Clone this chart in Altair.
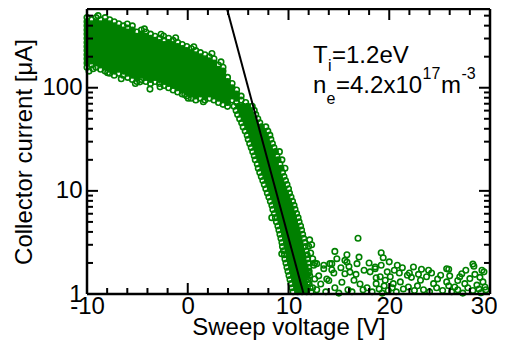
import altair as alt
import pandas as pd

# ---------------- data ----------------
# dense upper band: one column of currents per sweep voltage
top_v = [-10.0, -9.55, -9.1, -8.65, -8.2, -7.75, -7.3, -6.85, -6.4, -5.95, -5.5, -5.05,
         -4.6, -4.15, -3.7, -3.25, -2.8, -2.35, -1.9, -1.45, -1.0, -0.55, -0.1, 0.35,
         0.8, 1.25, 1.7, 2.15, 2.6, 3.05, 3.5, 3.95, 4.4, 4.85, 5.3, 5.75]
top_i = [
    [479, 437, 398, 363, 331, 302, 275, 251, 229, 209, 191, 174, 158],
    [457, 417, 380, 347, 316, 288, 263, 240, 219, 200, 182, 166],
    [479, 437, 398, 363, 331, 302, 275, 251, 229, 209, 191, 174, 158],
    [457, 417, 380, 347, 316, 288, 263, 240, 219, 200, 182, 166, 151],
    [479, 437, 398, 363, 331, 302, 275, 251, 229, 209, 191, 174, 158, 145],
    [457, 417, 380, 347, 316, 288, 263, 240, 219, 200, 182, 166, 151, 138],
    [437, 398, 363, 331, 302, 275, 251, 229, 209, 191, 174, 158, 145, 132],
    [417, 380, 347, 316, 288, 263, 240, 219, 200, 182, 166, 151, 138],
    [398, 363, 331, 302, 275, 251, 229, 209, 191, 174, 158, 145, 132],
    [380, 347, 316, 288, 263, 240, 219, 200, 182, 166, 151, 138, 126],
    [398, 363, 331, 302, 275, 251, 229, 209, 191, 174, 158, 145, 132, 120],
    [347, 316, 288, 263, 240, 219, 200, 182, 166, 151, 138, 126, 115],
    [363, 331, 302, 275, 251, 229, 209, 191, 174, 158, 145, 132, 120],
    [347, 316, 288, 263, 240, 219, 200, 182, 166, 151, 138, 126, 115],
    [331, 302, 275, 251, 229, 209, 191, 174, 158, 145, 132, 120, 110],
    [316, 288, 263, 240, 219, 200, 182, 166, 151, 138, 126, 115],
    [302, 275, 251, 229, 209, 191, 174, 158, 145, 132, 120, 110],
    [288, 263, 240, 219, 200, 182, 166, 151, 138, 126, 115, 105],
    [302, 275, 251, 229, 209, 191, 174, 158, 145, 132, 120, 110, 100],
    [288, 263, 240, 219, 200, 182, 166, 151, 138, 126, 115, 105, 95],
    [275, 251, 229, 209, 191, 174, 158, 145, 132, 120, 110, 100, 91],
    [263, 240, 219, 200, 182, 166, 151, 138, 126, 115, 105, 95, 87],
    [251, 229, 209, 191, 174, 158, 145, 132, 120, 110, 100, 91, 83],
    [240, 219, 200, 182, 166, 151, 138, 126, 115, 105, 95, 87, 79],
    [229, 209, 191, 174, 158, 145, 132, 120, 110, 100, 91, 83, 76],
    [219, 200, 182, 166, 151, 138, 126, 115, 105, 95, 87, 79],
    [209, 191, 174, 158, 145, 132, 120, 110, 100, 91, 83, 76],
    [200, 182, 166, 151, 138, 126, 115, 105, 95, 87, 79],
    [191, 174, 158, 145, 132, 120, 110, 100, 91, 83, 76],
    [166, 151, 138, 126, 115, 105, 95, 87, 79, 72],
    [158, 145, 132, 120, 110, 100, 91, 83, 76, 69],
    [126, 115, 105, 95, 87, 79, 72, 66],
    [110, 100, 91, 83, 76],
    [95, 87, 79, 72],
    [83, 76],
    [72],
]
# stray points around the upper band
edge_v = [-9.4, -7.95, -4.75, -3.75, -2.75, 1.55, 0.05, -4.3, -2.65, -2.4, -6.0, -8.9,
          -9.8, -6.6, -1.2, 0.6, 2.4, 3.3, -5.2, -0.3]
edge_i = [153, 140, 114, 97, 102, 73, 79, 372, 330, 318, 415, 500,
          145, 122, 305, 250, 215, 178, 110, 86]

# steep (retarding) part: one row of voltages per current level
steep_i = [66.1, 60.3, 55.0, 50.1, 45.7, 41.7, 38.0, 34.7, 31.6, 28.8, 26.3, 24.0,
           21.9, 20.0, 18.2, 16.6, 15.1, 13.8, 12.6, 11.5, 10.5, 9.55, 8.71, 7.94,
           7.24, 6.61, 6.03, 5.50, 5.01, 4.57, 4.17, 3.80, 3.47, 3.16, 2.88, 2.63,
           2.40, 2.19, 2.00, 1.82, 1.66, 1.51, 1.38, 1.26, 1.15, 1.05]
steep_v = [
    [4.6, 5.05, 5.5, 5.95, 6.4],
    [4.8, 5.25, 5.7, 6.15, 6.6],
    [4.95, 5.4, 5.85, 6.3, 6.75],
    [5.15, 5.6, 6.05, 6.5, 6.95],
    [5.35, 5.8, 6.25, 6.7, 7.15],
    [5.5, 5.95, 6.4, 6.85, 7.3, 7.75],
    [5.7, 6.15, 6.6, 7.05, 7.5, 7.95],
    [5.9, 6.35, 6.8, 7.25, 7.7, 8.15],
    [6.0, 6.45, 6.9, 7.35, 7.8, 8.25],
    [6.15, 6.6, 7.05, 7.5, 7.95, 8.4],
    [6.3, 6.75, 7.2, 7.65, 8.1, 8.55],
    [6.45, 6.9, 7.35, 7.8, 8.25, 8.7, 9.1],
    [6.6, 7.05, 7.5, 7.95, 8.4, 8.85],
    [6.7, 7.15, 7.6, 8.05, 8.5, 8.95, 9.35],
    [6.9, 7.35, 7.8, 8.25, 8.7, 9.15],
    [7.0, 7.45, 7.9, 8.35, 8.8, 9.25, 9.65],
    [7.15, 7.6, 8.05, 8.5, 8.95, 9.4],
    [7.3, 7.75, 8.2, 8.65, 9.1, 9.55],
    [7.45, 7.9, 8.35, 8.8, 9.25, 9.7],
    [7.6, 8.05, 8.5, 8.95, 9.4, 9.85],
    [7.75, 8.2, 8.65, 9.1, 9.55, 10.0],
    [7.9, 8.35, 8.8, 9.25, 9.7, 10.1],
    [8.05, 8.5, 8.95, 9.4, 9.85, 10.25],
    [8.2, 8.65, 9.1, 9.55, 10.0, 10.4],
    [8.35, 8.8, 9.25, 9.7, 10.15, 10.55],
    [8.45, 8.9, 9.35, 9.8, 10.25, 10.65],
    [8.6, 9.05, 9.5, 9.95, 10.4, 10.8],
    [8.7, 9.15, 9.6, 10.05, 10.5, 10.95],
    [8.8, 9.25, 9.7, 10.15, 10.6, 11.05],
    [8.95, 9.4, 9.85, 10.3, 10.75, 11.2],
    [9.05, 9.5, 9.95, 10.4, 10.85, 11.3],
    [9.15, 9.6, 10.05, 10.5, 10.95, 11.4],
    [9.25, 9.7, 10.15, 10.6, 11.05, 11.5],
    [9.35, 9.8, 10.25, 10.7, 11.15, 11.6],
    [9.4, 9.85, 10.3, 10.75, 11.2, 11.65],
    [9.5, 9.95, 10.4, 10.85, 11.3, 11.75],
    [9.6, 10.05, 10.5, 10.95, 11.4, 11.85],
    [9.65, 10.1, 10.55, 11.0, 11.45, 11.9],
    [9.75, 10.2, 10.65, 11.1, 11.55, 11.95],
    [9.85, 10.3, 10.75, 11.2, 11.65, 12.0],
    [9.95, 10.4, 10.85, 11.3, 11.75, 12.05],
    [10.05, 10.5, 10.95, 11.4, 11.85, 12.1],
    [10.15, 10.6, 11.05, 11.5, 11.95],
    [10.25, 10.7, 11.15, 11.6, 12.05],
    [10.35, 10.8, 11.25, 11.7, 12.15],
    [10.45, 10.9, 11.35, 11.8, 12.25],
]

# sparse noise floor beyond the band
tail_v = [16.9, 14.6, 15.8, 17.0, 19.2, 19.4, 16.8, 15.8, 14.8, 14.3, 13.5, 12.5, 12.1, 12.0, 12.2,
          12.4, 12.6, 18.6, 20.8, 22.4, 23.2, 23.9, 25.9, 27.2, 28.4, 29.4, 22.0, 22.2, 19.8, 18.7,
          9.33, 15.6, 25.7, 28.3, 29.2, 13.5, 14.1, 14.3, 12.8, 15.6, 16.1, 16.5, 17.1, 17.4, 18.1,
          18.6, 19.1, 18.7, 19.6, 20.1, 20.4, 21.1, 21.8, 21.9, 23.1, 23.7, 24.4, 25.1, 25.7, 26.5,
          27.0, 27.5, 28.0, 28.7, 29.3, 29.5, 12.8, 13.2, 13.7, 14.0, 14.6, 15.0, 15.3, 15.9, 16.3,
          17.8, 18.3, 19.0, 19.3, 19.5, 19.9, 20.3, 20.7, 21.4, 22.5, 22.8, 23.4, 24.0, 24.7, 25.3,
          25.9, 26.2, 26.8, 27.3, 27.8, 28.3, 28.9, 29.1, 29.6, 13.0, 13.8, 14.5, 15.2, 16.0, 16.7,
          17.5, 18.0, 19.2, 20.5, 21.3, 22.9, 24.2, 24.8, 26.0, 26.8, 27.6, 28.5, 29.0, 20.0, 21.0,
          8.34, 12.3, 12.0, 11.9, 12.4, 12.6]
tail_i = [3.47, 2.59, 2.4, 2.28, 2.51, 2.25, 1.97, 2.04, 2.2, 1.97, 1.76, 1.9, 3.35, 2.9, 2.5,
          2.2, 2.0, 1.83, 1.9, 1.83, 1.74, 1.7, 1.74, 1.57, 1.86, 1.64, 1.6, 1.45, 1.64, 1.44,
          2.45, 2.12, 1.76, 1.95, 1.7, 1.9, 1.97, 1.72, 1.97, 1.57, 1.63, 1.36, 1.25, 1.1, 1.64,
          1.76, 1.47, 1.26, 1.36, 1.47, 1.26, 1.31, 1.52, 1.17, 1.36, 1.47, 1.26, 1.52, 1.31, 1.17,
          1.47, 1.26, 1.41, 1.22, 1.31, 1.17, 1.1, 1.25, 1.05, 1.35, 1.15, 1.02, 1.3, 1.1, 1.05,
          1.15, 1.05, 1.12, 1.02, 1.2, 1.08, 1.15, 1.05, 1.12, 1.08, 1.2, 1.1, 1.05, 1.15, 1.08,
          1.2, 1.05, 1.1, 1.02, 1.15, 1.08, 1.12, 1.03, 1.1, 1.5, 1.4, 1.6, 1.8, 1.85, 1.55,
          1.7, 2.0, 1.9, 1.7, 1.8, 1.55, 1.6, 1.4, 1.5, 1.35, 1.7, 1.55, 1.45, 2.05, 1.6,
          5.5, 3.0, 1.6, 1.3, 1.15, 1.4]

# exponential fit (straight on the log axis)
fit_v = [3.9, 11.5]
fit_i = [580, 1]

# axes
x_domain = [-10, 30]
y_domain = [1, 580]
x_major = [-10, 0, 10, 20, 30]
x_minor = [-8, -6, -4, -2, 2, 4, 6, 8, 12, 14, 16, 18, 22, 24, 26, 28]
y_major = [1, 10, 100]
y_minor = [2, 3, 4, 5, 6, 7, 8, 9, 20, 30, 40, 50, 60, 70, 80, 90, 200, 300, 400, 500]

# ---------------- build tables ----------------
pv, pi = [], []   # every measured point (open circles)
fv, fi = [], []   # interior of the dense band (overplotted, appears solid)
for v, col in zip(top_v, top_i):
    for k, i in enumerate(col):
        pv.append(v)
        pi.append(i)
        if 0 < k < len(col) - 1:
            fv.append(v)
            fi.append(i)
pv += edge_v
pi += edge_i
for i, row in zip(steep_i, steep_v):
    for k, v in enumerate(row):
        pv.append(v)
        pi.append(i)
        if 0 < k < len(row) - 1:
            fv.append(v)
            fi.append(i)
pv += tail_v
pi += tail_i
points = pd.DataFrame({"V": pv, "I": pi})
dense = pd.DataFrame({"V": fv, "I": fi})
fit = pd.DataFrame({"V": fit_v, "I": fit_i})

W, H = 403, 285
FONT = "Liberation Sans"
GREEN = "#008000"
MAJ, MIN = 11, 6
FS = 24

xs = alt.Scale(domain=x_domain, nice=False, zero=False)
ys = alt.Scale(type="log", domain=y_domain, nice=False)

XAX = alt.Axis(
    values=x_major, ticks=False, domain=False, grid=False,
    labelFont=FONT, labelFontSize=FS, labelColor="black", labelPadding=0,
    labelFlush=False, labelOverlap=False, labelExpr="'' + datum.value",
    labelAlign={"condition": {"test": "datum.value == 30", "value": "right"}, "value": "center"},
    labelOffset={"condition": {"test": "datum.value == 30", "value": 7}, "value": 0},
    title="Sweep voltage [V]", titleFont=FONT, titleFontSize=FS,
    titleFontWeight="normal", titleColor="black",
    titleBaseline="alphabetic", titleY=40)
YAX = alt.Axis(
    values=y_major, ticks=False, domain=False, grid=False,
    labelFont=FONT, labelFontSize=FS, labelColor="black", labelPadding=5,
    labelFlush=False, labelOverlap=False, labelExpr="'' + datum.value",
    title="Collector current [μA]", titleFont=FONT, titleFontSize=FS,
    titleFontWeight="normal", titleColor="black",
    titleBaseline="alphabetic", titleX=-56)


def X(f="V"):
    return alt.X(f + ":Q", scale=xs, axis=XAX, title="Sweep voltage [V]")


def Y(f="I"):
    return alt.Y(f + ":Q", scale=ys, axis=YAX, title="Collector current [μA]")


fill = alt.Chart(dense).mark_point(
    shape="circle", filled=True, color=GREEN, size=26, strokeWidth=0, opacity=1
).encode(x=X(), y=Y())

pts = alt.Chart(points).mark_point(
    shape="circle", filled=False, color=GREEN, size=30, strokeWidth=1.6, opacity=1
).encode(x=X(), y=Y())

line = alt.Chart(fit).mark_line(color="black", strokeWidth=2).encode(x=X(), y=Y())


def xticks(vals, length):
    d = pd.DataFrame({"V": vals})
    bottom = alt.Chart(d).mark_rule(color="black", strokeWidth=2).encode(
        x=X(), y=alt.value(H), y2=alt.value(H - length))
    top = alt.Chart(d).mark_rule(color="black", strokeWidth=2).encode(
        x=X(), y=alt.value(0), y2=alt.value(length))
    return [bottom, top]


def yticks(vals, length):
    d = pd.DataFrame({"I": vals})
    left = alt.Chart(d).mark_rule(color="black", strokeWidth=2).encode(
        y=Y(), x=alt.value(0), x2=alt.value(length))
    right = alt.Chart(d).mark_rule(color="black", strokeWidth=2).encode(
        y=Y(), x=alt.value(W), x2=alt.value(W - length))
    return [left, right]


frame_x = alt.Chart(pd.DataFrame({"V": x_domain})).mark_rule(
    color="black", strokeWidth=2.5).encode(x=X())
frame_y = alt.Chart(pd.DataFrame({"I": y_domain})).mark_rule(
    color="black", strokeWidth=2.5).encode(y=Y())


def txt(s, x, y, size):
    return alt.Chart(pd.DataFrame({"a": [0]})).mark_text(
        text=s, font=FONT, fontSize=size, color="black", align="left", baseline="alphabetic"
    ).encode(x=alt.value(x), y=alt.value(y))


ann = [
    txt("T", 226, 54, 24), txt("i", 241, 62, 16), txt("=1.2eV", 245, 54, 24),
    txt("n", 226, 84, 24), txt("e", 239.5, 95, 16), txt("=4.2x10", 249, 84, 24),
    txt("17", 335.5, 70, 16), txt("m", 354, 84, 24), txt("-3", 374.5, 70, 16),
]

layers = [fill, pts, line] + xticks(x_major, MAJ) + xticks(x_minor, MIN) \
    + yticks(y_major, MAJ) + yticks(y_minor, MIN) + [frame_x, frame_y] + ann

chart = alt.layer(*layers).properties(
    width=W, height=H,
    background="white",
    autosize=alt.AutoSizeParams(type="none"),
    padding={"left": 79, "top": 1, "right": 7, "bottom": 47},
).configure_view(stroke=None)

chart.save("out.html", embed_options={"renderer": "svg", "actions": False})
